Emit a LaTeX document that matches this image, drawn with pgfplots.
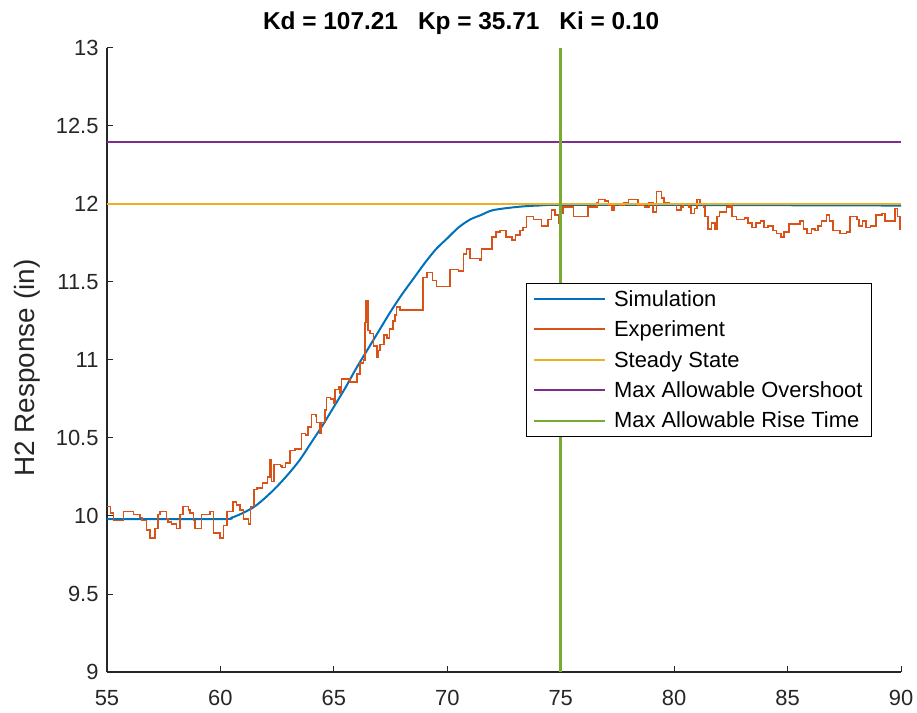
\documentclass[border=0pt]{standalone}
\usepackage{fontspec}
\setmainfont{Liberation Sans}
\usepackage{pgfplots}
\pgfplotsset{compat=1.18}
\definecolor{mblue}{rgb}{0,0.447,0.741}
\definecolor{morange}{rgb}{0.85,0.325,0.098}
\definecolor{myellow}{rgb}{0.929,0.694,0.125}
\definecolor{mpurple}{rgb}{0.494,0.184,0.556}
\definecolor{mgreen}{rgb}{0.466,0.674,0.188}
\definecolor{axgray}{rgb}{0.15,0.15,0.15}
\begin{document}
\begin{tikzpicture}
\path[use as bounding box] (-107bp,-41bp) rectangle (810bp,672bp);
\begin{axis}[
  at={(0,0)}, anchor=south west,
  scale only axis, width=794bp, height=624bp,
  xmin=55, xmax=90, ymin=9, ymax=13,
  xtick={55,60,...,90}, ytick={9,9.5,...,13},
  yticklabels={9,9.5,10,10.5,11,11.5,12,12.5,13},
  axis x line=bottom, axis y line=left,
  every outer x axis line/.append style={-, axgray, line width=1.2bp},
  every outer y axis line/.append style={-, axgray, line width=1.2bp},
  tick align=inside, major tick length=6bp,
  tick style={axgray, line width=1bp},
  /pgf/number format/assume math mode=true,
  ticklabel style={font=\fontsize{22}{26}\selectfont, text=axgray},
  xticklabel style={yshift=-17bp, inner sep=1bp, text depth=0pt},
  yticklabel style={xshift=-5bp},
  title={\textbf{Kd = 107.21\hspace{20bp}Kp = 35.71\hspace{20bp}Ki = 0.10}},
  title style={at={(axis description cs:0.446,1)}, anchor=base, yshift=13bp, font=\fontsize{24.5}{28}\selectfont},
  ylabel={H2 Response (in)},
  ylabel style={at={(axis description cs:-0.1008,0.487)}, anchor=center, rotate=0, font=\fontsize{28}{32}\selectfont, text=axgray},
  legend style={at={(axis description cs:0.9635,0.6234)}, anchor=north east, draw=black, line width=0.9bp, fill=white,
    font=\fontsize{22}{26}\selectfont, inner xsep=7bp, inner ysep=5bp, row sep=9bp,
    /tikz/every odd column/.append style={column sep=6bp}},
  legend cell align=left,
  legend image code/.code={\draw[#1, line width=2bp] (0bp,0bp) -- (71bp,0bp);},
  clip=true,
]
\addplot[color=mblue, line width=2bp, smooth] coordinates {
(55,9.98) (60,9.98) (60.5,9.99) (61,10.02) (61.5,10.06) (62,10.12) (62.5,10.19) (63,10.27) (63.5,10.36)
(64,10.47) (64.5,10.58) (65,10.70) (65.5,10.82) (66,10.95) (66.5,11.07) (67,11.19) (67.5,11.31)
(68,11.42) (68.5,11.52) (69,11.62) (69.5,11.71) (70,11.78) (70.5,11.85) (71,11.90) (71.5,11.93)
(72,11.96) (73,11.98) (74,11.99) (76,11.995) (90,11.99)};
\addlegendentry{Simulation}
\addplot[color=morange, line width=1.6bp, const plot] coordinates {
(55.00,10.06) (55.15,10.02) (55.28,9.97) (55.72,10.03) (56.16,10.01) (56.45,9.99) (56.53,9.97)
(56.75,9.91) (56.90,9.86) (57.12,9.92) (57.26,10.01) (57.34,10.03) (57.63,9.98) (57.70,9.96)
(57.85,9.95) (58.07,9.92) (58.22,10.01) (58.36,10.06) (58.59,10.04) (58.66,10.02) (58.81,9.97)
(58.88,9.92) (59.17,10.01) (59.54,10.03) (59.69,9.89) (59.98,9.86) (60.13,9.94) (60.28,10.03)
(60.56,10.09) (60.71,10.07) (60.86,10.04) (61.01,9.98) (61.23,9.95) (61.33,10.06) (61.48,10.17)
(61.62,10.18) (61.85,10.21) (62.07,10.25) (62.19,10.36) (62.25,10.22) (62.36,10.33) (62.65,10.32)
(62.72,10.31) (62.87,10.34) (63.07,10.42) (63.30,10.43) (63.58,10.53) (63.75,10.52) (63.87,10.57)
(64.02,10.65) (64.20,10.64) (64.24,10.60) (64.39,10.53) (64.45,10.60) (64.61,10.68) (64.68,10.76)
(64.85,10.75) (64.98,10.72) (65.05,10.81) (65.20,10.83) (65.27,10.79) (65.34,10.88) (65.71,10.86)
(66.01,10.91) (66.15,10.98) (66.30,11.00) (66.37,11.24) (66.42,11.38) (66.50,11.19) (66.59,11.17)
(66.74,11.09) (66.89,11.02) (66.95,11.06) (67.03,11.10) (67.20,11.16) (67.33,11.14) (67.45,11.20)
(67.60,11.25) (67.70,11.29) (67.77,11.34) (67.92,11.32) (68.94,11.53) (69.10,11.56) (69.35,11.51)
(69.53,11.47) (70.12,11.58) (70.50,11.57) (70.71,11.68) (70.85,11.71) (71.00,11.65) (71.44,11.64)
(71.50,11.71) (71.96,11.79) (72.15,11.82) (72.32,11.83) (72.60,11.79) (72.84,11.77) (73.00,11.80)
(73.20,11.83) (73.35,11.85) (73.50,11.92) (73.80,11.90) (74.16,11.86) (74.45,11.90) (74.60,11.96)
(74.75,11.93) (74.90,11.88) (75.00,11.94) (75.10,11.98) (75.56,11.92) (76.20,11.98) (76.59,12.01)
(76.66,12.03) (76.95,12.02) (77.10,11.99) (77.25,11.96) (77.35,12.00) (77.60,11.99) (77.80,12.01)
(77.98,12.03) (78.40,11.99) (78.70,11.98) (78.90,12.01) (79.08,11.95) (79.23,12.08) (79.45,12.04)
(79.55,12.01) (79.80,12.00) (80.11,11.96) (80.30,11.98) (80.40,12.00) (80.65,11.98) (80.75,11.94)
(80.90,11.97) (81.00,12.03) (81.15,12.00) (81.30,11.98) (81.36,11.92) (81.50,11.84) (81.65,11.88)
(81.80,11.84) (81.88,11.92) (82.00,11.95) (82.30,11.98) (82.45,12.00) (82.54,11.92) (82.75,11.90)
(83.10,11.91) (83.25,11.88) (83.42,11.85) (83.60,11.88) (83.80,11.89) (83.95,11.85) (84.15,11.86)
(84.35,11.83) (84.52,11.81) (84.70,11.79) (84.85,11.82) (85.05,11.87) (85.55,11.89) (85.70,11.84)
(85.85,11.81) (86.05,11.84) (86.20,11.83) (86.35,11.86) (86.50,11.89) (86.72,11.93) (86.85,11.89)
(87.00,11.83) (87.31,11.81) (87.60,11.82) (87.75,11.92) (88.05,11.90) (88.15,11.86) (88.30,11.89)
(88.45,11.85) (88.65,11.86) (88.90,11.93) (89.15,11.94) (89.30,11.89) (89.73,11.97) (89.85,11.92)
(89.95,11.84) (90.00,11.84)};
\addlegendentry{Experiment}
\addplot[color=myellow, line width=2bp] coordinates {(55,12) (90,12)};
\addlegendentry{Steady State}
\addplot[color=mpurple, line width=2bp] coordinates {(55,12.4) (90,12.4)};
\addlegendentry{Max Allowable Overshoot}
\addplot[color=mgreen, line width=2.8bp] coordinates {(75,9) (75,13)};
\addlegendentry{Max Allowable Rise Time}
\end{axis}
\end{tikzpicture}
\end{document}
